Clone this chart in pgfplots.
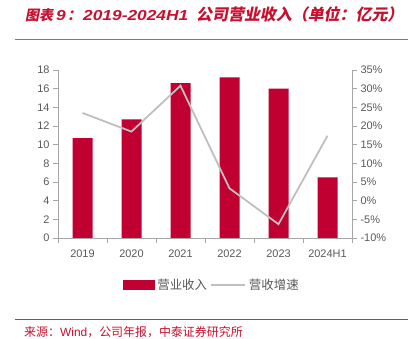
\documentclass[border=0pt]{standalone}
\usepackage{pgfplots}
\pgfplotsset{compat=1.18}
\usepackage{fontspec}
\setmainfont{Liberation Sans}
\newfontfamily\cjk{Noto Sans CJK SC}
\newfontfamily\cjkti[FakeSlant=0.2]{Noto Sans CJK SC}
\newfontfamily\titlelatin[FakeStretch=1.2]{Liberation Sans}
\definecolor{barred}{HTML}{C00030}
\definecolor{titlered}{HTML}{C8102E}
\definecolor{titleline}{HTML}{E05050}
\definecolor{srcline}{HTML}{D03030}
\definecolor{linegray}{HTML}{BFBFBF}
\definecolor{axgray}{HTML}{A6A6A6}
\definecolor{txtgray}{HTML}{595959}
\begin{document}
\begin{tikzpicture}[x=1bp,y=1bp]
\path[use as bounding box] (0,0) rectangle (413,339);
\begin{scope}[every node/.style={anchor=base west,text=titlered,inner sep=0pt}]
\node at (25,319) {\fontsize{14}{16}\selectfont\bfseries\cjkti 图表};
\node at (56,319) {\fontsize{14.5}{16}\selectfont\titlelatin\bfseries\itshape 9};
\node at (67,319) {\fontsize{14.5}{16}\selectfont\bfseries\cjkti ：};
\node at (83,319) {\fontsize{14.5}{16}\selectfont\titlelatin\bfseries\itshape 2019-2024H1};
\node at (196,319) {\fontsize{16}{18}\selectfont\bfseries\cjkti 公司营业收入（单位：亿元）};
\end{scope}
\draw[titleline, line width=1.2bp] (15,299.5) -- (408,299.5);
\draw[srcline, line width=0.8bp] (15,20) -- (408,20);
\node[anchor=west,text=titlered,inner sep=0pt] at (24,7)
  {\fontsize{12}{14}\selectfont{\cjk 来源：}Wind{\cjk ，公司年报，中泰证券研究所}};
\pgfplotsset{
  every axis/.append style={
    at={(58bp,101bp)}, anchor=south west,
    width=294bp, height=168bp, scale only axis,
    xmin=-0.5, xmax=5.5,
    axis line style={axgray, line width=0.8bp},
    tick style={axgray, line width=0.8bp},
    major tick length=5bp, minor tick length=5bp,
    tick align=outside,
    tick label style={font=\fontsize{11}{13}\selectfont, text=txtgray},
    /pgf/number format/assume math mode=true,
  }
}
\begin{axis}[
  axis x line*=bottom, axis y line*=left,
  ymin=0, ymax=18, ytick={0,2,...,18},
  xtick={0,...,5},
  xticklabels={2019,2020,2021,2022,2023,2024H1},
  major x tick style={draw=none},
  minor xtick={-0.5,0.5,...,5.5},
  xticklabel style={yshift=-3bp},
]
\addplot[ybar, bar width=20bp, fill=barred, draw=none]
  coordinates {(0,10.7)(1,12.7)(2,16.6)(3,17.2)(4,16.0)(5,6.5)};
\end{axis}
\begin{axis}[
  axis x line=none, axis y line*=right,
  ymin=-10, ymax=35, ytick={-10,-5,...,35},
  yticklabel={\pgfmathprintnumber{\tick}\%},
  legend style={at={(0.525,-0.28)}, anchor=center, draw=none, fill=none,
    font=\cjk\fontsize{12.5}{14}\selectfont, text=txtgray,
    legend columns=-1,
    nodes={inner xsep=3bp},
    /tikz/every even column/.append style={column sep=0bp}},
]
\addlegendimage{legend image code/.code={\fill[barred] (0bp,-4.5bp) rectangle (31bp,4.5bp);}}
\addlegendentry{营业收入}
\addplot[linegray, line width=1.8bp, mark=none,
  legend image code/.code={\draw[linegray,line width=1.8bp] (0bp,0bp) -- (34bp,0bp);}]
  coordinates {(0,23.5)(1,18.5)(2,30.8)(3,3.3)(4,-6.3)(5,17.4)};
\addlegendentry{营收增速}
\end{axis}
\end{tikzpicture}
\end{document}
